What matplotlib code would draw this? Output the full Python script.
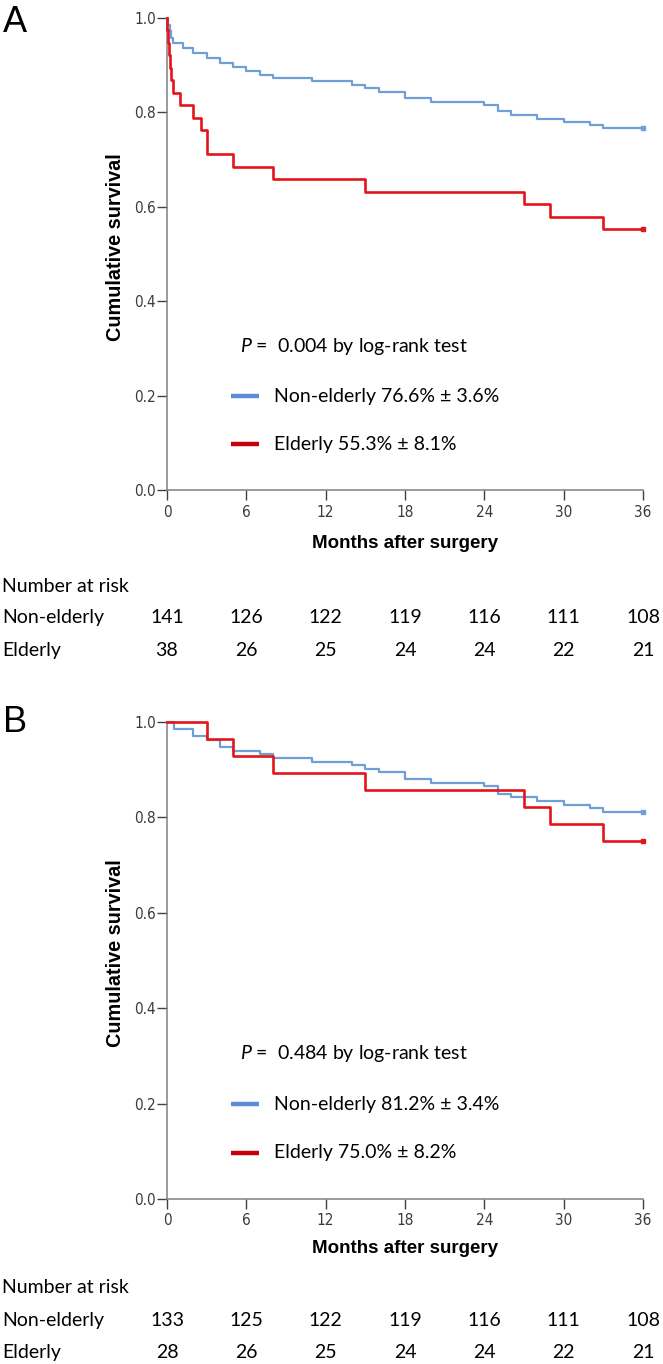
import matplotlib
matplotlib.use("Agg")
import matplotlib.pyplot as plt
from matplotlib.transforms import blended_transform_factory

# ---------------- data ----------------
months_ticks = [0, 6, 12, 18, 24, 30, 36]
y_ticks = [0.0, 0.2, 0.4, 0.6, 0.8, 1.0]

# Panel A
A_non_t = [0, 0.1, 0.2, 0.3, 0.48, 1.2, 2.0, 3.0, 4.0, 5.0, 6.0, 7.0, 8.0, 11.0, 14.0, 15.0,
           16.0, 18.0, 20.0, 24.0, 25.0, 26.0, 28.0, 30.0, 32.0, 33.0, 36.0]
A_non_s = [1.0, 0.986, 0.972, 0.957, 0.946, 0.937, 0.925, 0.916, 0.904, 0.896, 0.888, 0.879,
           0.872, 0.866, 0.858, 0.851, 0.844, 0.830, 0.823, 0.816, 0.802, 0.794, 0.787, 0.780,
           0.773, 0.766, 0.766]
A_eld_t = [0, 0.03, 0.06, 0.15, 0.2, 0.3, 0.45, 1.0, 2.0, 2.6, 3.0, 5.0, 8.0, 15.0, 27.0,
           29.0, 33.0, 36.0]
A_eld_s = [1.0, 0.974, 0.947, 0.921, 0.895, 0.868, 0.842, 0.816, 0.789, 0.763, 0.711, 0.684,
           0.658, 0.632, 0.605, 0.579, 0.553, 0.553]
A_p_text = "0.004"
A_non_label = "Non-elderly 76.6% \u00b1 3.6%"
A_eld_label = "Elderly 55.3% \u00b1 8.1%"
A_risk_non = [141, 126, 122, 119, 116, 111, 108]
A_risk_eld = [38, 26, 25, 24, 24, 22, 21]

# Panel B
B_non_t = [0, 0.5, 2.0, 3.0, 4.0, 5.0, 7.0, 8.0, 11.0, 14.0, 15.0, 16.0, 18.0, 20.0, 24.0,
           25.0, 26.0, 28.0, 30.0, 32.0, 33.0, 36.0]
B_non_s = [1.0, 0.985, 0.970, 0.962, 0.947, 0.940, 0.932, 0.925, 0.917, 0.910, 0.902, 0.895,
           0.880, 0.872, 0.865, 0.850, 0.842, 0.835, 0.827, 0.820, 0.812, 0.812]
B_eld_t = [0, 3.0, 5.0, 8.0, 15.0, 27.0, 29.0, 33.0, 36.0]
B_eld_s = [1.0, 0.964, 0.929, 0.893, 0.857, 0.821, 0.786, 0.750, 0.750]
B_p_text = "0.484"
B_non_label = "Non-elderly 81.2% \u00b1 3.4%"
B_eld_label = "Elderly 75.0% \u00b1 8.2%"
B_risk_non = [133, 125, 122, 119, 116, 111, 108]
B_risk_eld = [28, 26, 25, 24, 24, 22, 21]

# ---------------- style ----------------
plt.rcParams['mathtext.fontset'] = 'custom'
plt.rcParams['mathtext.it'] = 'Lato:italic'
plt.rcParams['mathtext.rm'] = 'Lato'

W, H = 663, 1364
fig = plt.figure(figsize=(W / 100, H / 100), dpi=100)

BLUE = '#6e9fd6'
RED = '#e3141b'
LEG_BLUE = '#5b8ed6'
LEG_RED = '#c8000a'
SPINE = '#808080'
TICKC = '#3a3a3a'
TXT_FONT = 'Lato'


def fy(px):
    return 1 - px / H


def panel(rect, letter, letter_base, non_t, non_s, eld_t, eld_s, p_text, non_label,
          eld_label, risk_non, risk_eld, risk_base, tick_pad, xlabel_y):
    ax = fig.add_axes(rect)
    ax.step(non_t, non_s, where='post', color=BLUE, lw=1.6, clip_on=False, zorder=3)
    ax.step(eld_t, eld_s, where='post', color=RED, lw=1.9, clip_on=False, zorder=4)
    ax.plot(non_t[-1], non_s[-1], marker='s', ms=2.5, color=BLUE, clip_on=False, zorder=3)
    ax.plot(eld_t[-1], eld_s[-1], marker='s', ms=2.5, color=RED, clip_on=False, zorder=4)

    ax.set_xlim(0, 36)
    ax.set_ylim(0, 1)
    for s in ['top', 'right']:
        ax.spines[s].set_visible(False)
    for s in ['left', 'bottom']:
        ax.spines[s].set_color(SPINE)
        ax.spines[s].set_linewidth(1.1)
    ax.set_xticks(months_ticks)
    ax.set_yticks(y_ticks)
    ax.set_yticklabels([f"{v:.1f}" for v in y_ticks])
    ax.tick_params(axis='both', direction='out', length=7.5, width=1.0, color='#404040',
                   labelcolor=TICKC, labelsize=11)
    ax.tick_params(axis='y', pad=0.5)
    ax.tick_params(axis='x', pad=tick_pad)
    for lab in ax.get_xticklabels() + ax.get_yticklabels():
        lab.set_fontstretch('condensed')

    ax.set_xlabel("Months after surgery", fontsize=13.5, fontweight='bold',
                  family='Liberation Sans', va='center')
    ax.xaxis.set_label_coords(0.5, xlabel_y)
    ax.set_ylabel("Cumulative survival", fontsize=14.3, fontweight='bold',
                  family='Liberation Sans', va='center')
    ax.yaxis.set_label_coords(-0.109, 0.515)

    # annotation / legend
    ax.text(0.153, 0.305, r"$P$ =  " + p_text + " by log-rank test", transform=ax.transAxes,
            fontsize=14, family=TXT_FONT, va='center', ha='left')
    ax.plot([0.134, 0.194], [0.199, 0.199], transform=ax.transAxes, color=LEG_BLUE, lw=3.2,
            solid_capstyle='butt')
    ax.text(0.225, 0.199, non_label, transform=ax.transAxes, fontsize=14, family=TXT_FONT,
            va='center', ha='left')
    ax.plot([0.134, 0.194], [0.097, 0.097], transform=ax.transAxes, color=LEG_RED, lw=3.2,
            solid_capstyle='butt')
    ax.text(0.225, 0.097, eld_label, transform=ax.transAxes, fontsize=14, family=TXT_FONT,
            va='center', ha='left')

    # panel letter
    fig.text(3 / W, fy(letter_base), letter, fontsize=26, family='Liberation Sans',
             va='baseline', ha='left')

    # number at risk table
    b0, b1, b2 = risk_base
    fig.text(2 / W, fy(b0), "Number at risk", fontsize=14, family=TXT_FONT, va='baseline')
    fig.text(2 / W, fy(b1), "Non-elderly", fontsize=14, family=TXT_FONT, va='baseline')
    fig.text(2 / W, fy(b2), "Elderly", fontsize=14, family=TXT_FONT, va='baseline')
    tr = blended_transform_factory(ax.transData, fig.transFigure)
    for m, n1, n2 in zip(months_ticks, risk_non, risk_eld):
        ax.text(m, fy(b1), str(n1), transform=tr, fontsize=14, family=TXT_FONT,
                ha='center', va='baseline', clip_on=False)
        ax.text(m, fy(b2), str(n2), transform=tr, fontsize=14, family=TXT_FONT,
                ha='center', va='baseline', clip_on=False)
    return ax


axA = panel([167 / W, fy(490), 476 / W, 472 / H], "A", 31.7,
            A_non_t, A_non_s, A_eld_t, A_eld_s, A_p_text, A_non_label, A_eld_label,
            A_risk_non, A_risk_eld, (591.7, 623.5, 656), 3.5, -0.114)
axB = panel([167 / W, fy(1199), 476 / W, 477 / H], "B", 731.7,
            B_non_t, B_non_s, B_eld_t, B_eld_s, B_p_text, B_non_label, B_eld_label,
            B_risk_non, B_risk_eld, (1292.7, 1325.7, 1358.3), 2.5, -0.103)

fig.savefig("out.png", dpi=100)
